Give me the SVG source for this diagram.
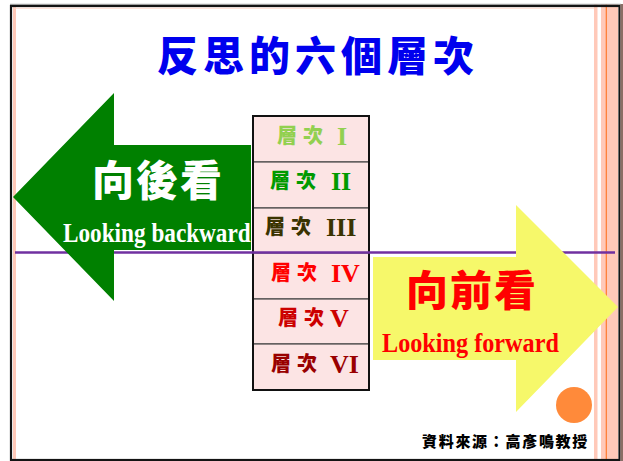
<svg xmlns="http://www.w3.org/2000/svg" width="623" height="461" viewBox="0 0 623 461">
<style>
.cjk{font-family:"Noto Sans CJK TC","Noto Sans CJK SC",sans-serif;font-weight:900}
.lat{font-family:"Liberation Serif",serif;font-weight:bold}
.num{font-family:"Liberation Serif",serif;font-weight:bold;font-size:26px}
.lvl{font-size:20px;letter-spacing:6px}
.cell{fill:#FCE4E4;stroke:#4a4a4a;stroke-width:1.2}
</style>
<rect x="0" y="0" width="623" height="461" fill="#ffffff"/>
<g id="frame">
<rect x="594" y="4" width="3.5" height="457" fill="#FFC9B9"/>
<rect x="601" y="4" width="17" height="457" fill="#FFC9B9"/>
<line x1="606.3" y1="4" x2="606.3" y2="461" stroke="#FF7A2E" stroke-width="1.2"/>
<line x1="10" y1="4.3" x2="621" y2="4.3" stroke="#9a9a9a" stroke-width="1"/>
<line x1="14.5" y1="7" x2="14.5" y2="461" stroke="#FFC9B9" stroke-width="3"/>
<line x1="14" y1="8.2" x2="594" y2="8.2" stroke="#FFD5C8" stroke-width="1"/>
<rect x="11" y="6" width="608.5" height="454" fill="none" stroke="#141414" stroke-width="2.2"/>
<rect x="620.5" y="4" width="2.5" height="457" fill="#8a6f66"/>
</g>
<g id="title">
<text class="cjk" x="318" y="71" font-size="41" letter-spacing="5" text-anchor="middle" fill="#0000EE">反思的六個層次</text>
</g>
<g id="table">
<rect class="cell" x="253" y="116" width="116" height="46"/>
<rect class="cell" x="253" y="162" width="116" height="46"/>
<rect class="cell" x="253" y="208" width="116" height="45"/>
<rect class="cell" x="253" y="253" width="116" height="46"/>
<rect class="cell" x="253" y="299" width="116" height="45"/>
<rect class="cell" x="253" y="344" width="116" height="46"/>
<rect x="253" y="116" width="116" height="274" fill="none" stroke="#111" stroke-width="2"/>
</g>
<g id="level1"><text class="cjk lvl" x="277" y="143" fill="#92D050">層次</text><text class="num" x="337" y="145" fill="#92D050">I</text></g>
<g id="level2"><text class="cjk lvl" x="270" y="188" fill="#009A00">層次</text><text class="num" x="331" y="190" fill="#009A00">II</text></g>
<g id="level3"><text class="cjk lvl" x="265" y="234" fill="#3A3300">層次</text><text class="num" x="326" y="236" fill="#3A3300">III</text></g>
<g id="level4"><text class="cjk lvl" x="271" y="280" fill="#FF0000">層次</text><text class="num" x="331" y="282" fill="#FF0000">IV</text></g>
<g id="level5"><text class="cjk lvl" x="278" y="325" fill="#CC0000">層次</text><text class="num" x="330" y="327" fill="#CC0000">V</text></g>
<g id="level6"><text class="cjk lvl" x="271" y="371" fill="#990000">層次</text><text class="num" x="330" y="373" fill="#990000">VI</text></g>
<g id="connectors">
<line x1="15" y1="252.5" x2="615" y2="252.5" stroke="#7030A0" stroke-width="2.5"/>
</g>
<g id="backward">
<polygon points="13,197 114,93 114,145 251,145 251,250 114,250 114,301" fill="#008000"/>
<text class="cjk" x="92" y="196" font-size="42" letter-spacing="2" fill="#ffffff">向後看</text>
<text class="lat" transform="translate(63,242) scale(0.861,1)" x="0" y="0" font-size="27" textLength="218" lengthAdjust="spacingAndGlyphs" fill="#ffffff">Looking backward</text>
</g>
<g id="forward">
<polygon points="373,257 516,257 516,205 618,307 516,412 516,360 373,360" fill="#F6F86A"/>
<text class="cjk" x="406" y="306" font-size="42" letter-spacing="2" fill="#FF0000">向前看</text>
<text class="lat" transform="translate(382,352) scale(0.898,1)" x="0" y="0" font-size="27" textLength="197" lengthAdjust="spacingAndGlyphs" fill="#FF0000">Looking forward</text>
</g>
<g id="dot"><circle cx="574" cy="405" r="18" fill="#FF8A3A"/></g>
<g id="source">
<text class="cjk" x="422" y="447" font-size="15" letter-spacing="1.7" fill="#000000">資料來源：高彥鳴教授</text>
</g>
</svg>
